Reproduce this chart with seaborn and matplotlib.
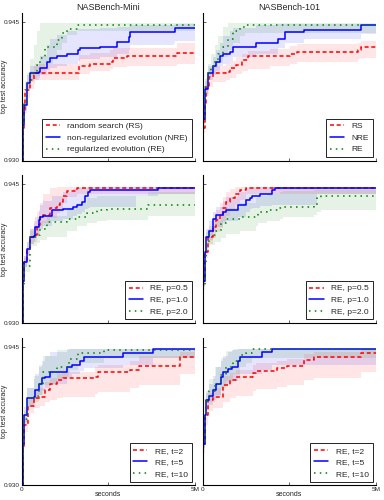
import matplotlib
matplotlib.use("Agg")
import matplotlib.pyplot as plt
import seaborn as sns

# x values are in millions of seconds
# --- row 1: RS / NRE / RE ---
mini_rs_x = [0, 0.02, 0.05, 0.10, 0.24, 0.34, 0.38, 1.66, 1.97, 2.55, 2.64, 3.03, 4.47, 5.0]
mini_rs_y = [0.930, 0.9335, 0.9355, 0.9377, 0.9387, 0.9393, 0.9395, 0.9402, 0.9405, 0.9407, 0.9411, 0.9413, 0.9417, 0.9417]
mini_rs_lo = [0.930, 0.9330, 0.9348, 0.9368, 0.9378, 0.9383, 0.9387, 0.9394, 0.9397, 0.9399, 0.9401, 0.9403, 0.9405, 0.9405]
mini_rs_hi = [0.930, 0.9340, 0.9362, 0.9386, 0.9397, 0.9402, 0.9405, 0.9414, 0.9417, 0.9420, 0.9422, 0.9422, 0.9427, 0.9427]

mini_nre_x = [0, 0.02, 0.05, 0.14, 0.24, 0.48, 0.53, 0.72, 0.82, 1.01, 1.30, 1.63, 1.68, 2.26, 2.74, 3.08, 3.13, 4.38, 4.42, 5.0]
mini_nre_y = [0.930, 0.9338, 0.9360, 0.9384, 0.9395, 0.9396, 0.9400, 0.9407, 0.9411, 0.9413, 0.9416, 0.9420, 0.9422, 0.9423, 0.9429, 0.9434, 0.9439, 0.9439, 0.9444, 0.9444]
mini_nre_lo = [0.930, 0.9333, 0.9352, 0.9375, 0.9387, 0.9390, 0.9393, 0.9398, 0.9400, 0.9402, 0.9405, 0.9408, 0.9410, 0.9412, 0.9416, 0.9420, 0.9425, 0.9427, 0.9430, 0.9430]
mini_nre_hi = [0.930, 0.9343, 0.9368, 0.9393, 0.9403, 0.9408, 0.9413, 0.9425, 0.9432, 0.9436, 0.9440, 0.9443, 0.9443, 0.9444, 0.9445, 0.9446, 0.9447, 0.9447, 0.9448, 0.9448]

mini_re_x = [0, 0.02, 0.05, 0.14, 0.24, 0.34, 0.43, 0.53, 0.67, 0.91, 1.01, 1.15, 1.30, 1.59, 5.0]
mini_re_y = [0.930, 0.9340, 0.9362, 0.9384, 0.9395, 0.9396, 0.9404, 0.9411, 0.9423, 0.9423, 0.9431, 0.9438, 0.9443, 0.9447, 0.9447]
mini_re_lo = [0.930, 0.9335, 0.9355, 0.9375, 0.9385, 0.9388, 0.9392, 0.9398, 0.9405, 0.9412, 0.9420, 0.9428, 0.9436, 0.9440, 0.9440]
mini_re_hi = [0.930, 0.9345, 0.9370, 0.9395, 0.9410, 0.9425, 0.9440, 0.9449, 0.9449, 0.9449, 0.9449, 0.9449, 0.9449, 0.9449, 0.9449]

b101_rs_x = [0, 0.02, 0.05, 0.10, 0.19, 0.29, 0.68, 0.78, 0.97, 1.12, 1.31, 1.94, 2.52, 2.72, 4.47, 4.56, 5.0]
b101_rs_y = [0.930, 0.9335, 0.9360, 0.9380, 0.9391, 0.9395, 0.9396, 0.9400, 0.9404, 0.9409, 0.9413, 0.9413, 0.9415, 0.9418, 0.9420, 0.9423, 0.9423]
b101_rs_lo = [0.930, 0.9330, 0.9352, 0.9370, 0.9380, 0.9385, 0.9387, 0.9390, 0.9394, 0.9397, 0.9399, 0.9402, 0.9405, 0.9407, 0.9410, 0.9411, 0.9411]
b101_rs_hi = [0.930, 0.9340, 0.9368, 0.9390, 0.9400, 0.9403, 0.9405, 0.9408, 0.9412, 0.9416, 0.9419, 0.9421, 0.9424, 0.9426, 0.9428, 0.9430, 0.9430]

b101_nre_x = [0, 0.02, 0.05, 0.15, 0.29, 0.39, 0.49, 0.58, 0.78, 0.87, 1.55, 2.18, 2.38, 2.91, 4.56, 5.0]
b101_nre_y = [0.930, 0.9345, 0.9378, 0.9395, 0.9402, 0.9407, 0.9413, 0.9416, 0.9418, 0.9423, 0.9427, 0.9432, 0.9439, 0.9442, 0.9447, 0.9447]
b101_nre_lo = [0.930, 0.9340, 0.9370, 0.9387, 0.9393, 0.9397, 0.9402, 0.9405, 0.9408, 0.9412, 0.9416, 0.9422, 0.9428, 0.9432, 0.9437, 0.9437]
b101_nre_hi = [0.930, 0.9350, 0.9386, 0.9403, 0.9412, 0.9420, 0.9428, 0.9435, 0.9440, 0.9444, 0.9447, 0.9448, 0.9448, 0.9448, 0.9448, 0.9448]

b101_re_x = [0, 0.02, 0.05, 0.15, 0.24, 0.34, 0.44, 0.58, 0.73, 0.87, 1.07, 1.21, 5.0]
b101_re_y = [0.930, 0.9345, 0.9380, 0.9395, 0.9402, 0.9409, 0.9416, 0.9423, 0.9432, 0.9440, 0.9445, 0.9447, 0.9447]
b101_re_lo = [0.930, 0.9340, 0.9372, 0.9387, 0.9394, 0.9400, 0.9406, 0.9412, 0.9420, 0.9428, 0.9435, 0.9438, 0.9440]
b101_re_hi = [0.930, 0.9350, 0.9388, 0.9405, 0.9415, 0.9425, 0.9435, 0.9445, 0.9449, 0.9449, 0.9449, 0.9449, 0.9449]

# --- row 2: RE with p = 0.5 / 1.0 / 2.0 ---
mini_p05_x = [0, 0.02, 0.05, 0.14, 0.24, 0.34, 0.43, 0.53, 0.62, 0.82, 1.01, 1.11, 1.20, 1.30, 1.59, 5.0]
mini_p05_y = [0.930, 0.9345, 0.9366, 0.9380, 0.9393, 0.9395, 0.9406, 0.9415, 0.9417, 0.9424, 0.9428, 0.9431, 0.9438, 0.9443, 0.9446, 0.9446]
mini_p05_lo = [0.930, 0.9340, 0.9360, 0.9372, 0.9385, 0.9388, 0.9396, 0.9405, 0.9408, 0.9414, 0.9419, 0.9423, 0.9430, 0.9436, 0.9440, 0.9442]
mini_p05_hi = [0.930, 0.9350, 0.9372, 0.9388, 0.9402, 0.9410, 0.9420, 0.9430, 0.9440, 0.9446, 0.9447, 0.9447, 0.9447, 0.9447, 0.9447, 0.9447]

mini_p10_x = [0, 0.02, 0.05, 0.14, 0.24, 0.34, 0.38, 0.48, 0.53, 0.62, 0.87, 1.20, 1.49, 1.59, 1.73, 1.83, 1.92, 1.97, 3.30, 3.94, 5.0]
mini_p10_y = [0.930, 0.9345, 0.9366, 0.9380, 0.9393, 0.9394, 0.9404, 0.9411, 0.9415, 0.9416, 0.9422, 0.9423, 0.9426, 0.9428, 0.9431, 0.9437, 0.9442, 0.9444, 0.9444, 0.9446, 0.9446]
mini_p10_lo = [0.930, 0.9340, 0.9360, 0.9372, 0.9385, 0.9388, 0.9395, 0.9399, 0.9402, 0.9405, 0.9410, 0.9413, 0.9416, 0.9418, 0.9420, 0.9423, 0.9425, 0.9426, 0.9438, 0.9440, 0.9440]
mini_p10_hi = [0.930, 0.9350, 0.9372, 0.9388, 0.9402, 0.9408, 0.9415, 0.9422, 0.9428, 0.9432, 0.9438, 0.9442, 0.9445, 0.9446, 0.9446, 0.9446, 0.9447, 0.9447, 0.9447, 0.9447, 0.9447]

mini_p20_x = [0, 0.02, 0.05, 0.24, 0.43, 0.53, 0.72, 1.30, 1.59, 1.88, 2.16, 2.45, 3.63, 5.0]
mini_p20_y = [0.930, 0.9340, 0.9362, 0.9393, 0.9395, 0.9402, 0.9409, 0.9413, 0.9415, 0.9419, 0.9422, 0.9423, 0.9428, 0.9428]
mini_p20_lo = [0.930, 0.9335, 0.9355, 0.9383, 0.9387, 0.9390, 0.9393, 0.9400, 0.9405, 0.9408, 0.9410, 0.9412, 0.9416, 0.9416]
mini_p20_hi = [0.930, 0.9345, 0.9370, 0.9400, 0.9404, 0.9410, 0.9416, 0.9425, 0.9430, 0.9435, 0.9437, 0.9438, 0.9442, 0.9442]

b101_p05_x = [0, 0.02, 0.05, 0.15, 0.29, 0.39, 0.49, 0.58, 0.68, 0.78, 0.92, 1.07, 1.26, 5.0]
b101_p05_y = [0.930, 0.9345, 0.9377, 0.9393, 0.9404, 0.9411, 0.9417, 0.9424, 0.9431, 0.9435, 0.9440, 0.9444, 0.9446, 0.9446]
b101_p05_lo = [0.930, 0.9340, 0.9370, 0.9385, 0.9392, 0.9398, 0.9403, 0.9410, 0.9416, 0.9422, 0.9428, 0.9433, 0.9440, 0.9442]
b101_p05_hi = [0.930, 0.9350, 0.9385, 0.9402, 0.9413, 0.9422, 0.9430, 0.9436, 0.9442, 0.9445, 0.9447, 0.9447, 0.9447, 0.9447]

b101_p10_x = [0, 0.02, 0.05, 0.10, 0.19, 0.29, 0.39, 0.58, 0.68, 1.02, 1.26, 1.36, 1.41, 1.65, 1.99, 2.09, 3.30, 5.0]
b101_p10_y = [0.930, 0.9345, 0.9377, 0.9393, 0.9399, 0.9413, 0.9417, 0.9420, 0.9422, 0.9428, 0.9433, 0.9435, 0.9438, 0.9440, 0.9444, 0.9446, 0.9446, 0.9446]
b101_p10_lo = [0.930, 0.9340, 0.9370, 0.9385, 0.9390, 0.9400, 0.9404, 0.9408, 0.9410, 0.9415, 0.9420, 0.9423, 0.9425, 0.9427, 0.9428, 0.9428, 0.9440, 0.9440]
b101_p10_hi = [0.930, 0.9350, 0.9385, 0.9402, 0.9410, 0.9420, 0.9426, 0.9432, 0.9436, 0.9442, 0.9446, 0.9446, 0.9447, 0.9447, 0.9447, 0.9447, 0.9447, 0.9447]

b101_p20_x = [0, 0.02, 0.05, 0.10, 0.19, 0.34, 0.53, 0.68, 1.07, 1.55, 1.60, 1.84, 2.23, 2.33, 3.20, 3.30, 3.40, 5.0]
b101_p20_y = [0.930, 0.9340, 0.9365, 0.9388, 0.9395, 0.9399, 0.9408, 0.9413, 0.9415, 0.9417, 0.9420, 0.9422, 0.9424, 0.9426, 0.9428, 0.9435, 0.9438, 0.9438]
b101_p20_lo = [0.930, 0.9335, 0.9358, 0.9378, 0.9384, 0.9388, 0.9392, 0.9396, 0.9400, 0.9405, 0.9408, 0.9410, 0.9413, 0.9415, 0.9417, 0.9420, 0.9422, 0.9422]
b101_p20_hi = [0.930, 0.9345, 0.9372, 0.9398, 0.9405, 0.9410, 0.9420, 0.9425, 0.9430, 0.9435, 0.9438, 0.9440, 0.9442, 0.9443, 0.9444, 0.9444, 0.9444, 0.9444]

# --- row 3: RE with t = 2 / 5 / 10 ---
mini_t2_x = [0, 0.02, 0.05, 0.19, 0.34, 0.53, 0.67, 0.82, 1.01, 1.20, 2.12, 2.21, 3.13, 3.37, 4.57, 5.0]
mini_t2_y = [0.930, 0.9340, 0.9365, 0.9386, 0.9394, 0.9396, 0.9403, 0.9410, 0.9414, 0.9416, 0.9417, 0.9423, 0.9425, 0.9429, 0.9439, 0.9439]
mini_t2_lo = [0.930, 0.9335, 0.9358, 0.9378, 0.9384, 0.9386, 0.9390, 0.9392, 0.9394, 0.9396, 0.9399, 0.9401, 0.9405, 0.9408, 0.9420, 0.9420]
mini_t2_hi = [0.930, 0.9345, 0.9372, 0.9394, 0.9402, 0.9405, 0.9412, 0.9416, 0.9420, 0.9423, 0.9428, 0.9430, 0.9435, 0.9440, 0.9444, 0.9444]

mini_t5_x = [0, 0.02, 0.05, 0.14, 0.34, 0.38, 0.48, 0.58, 0.67, 0.82, 1.30, 1.44, 1.68, 1.78, 2.93, 3.80, 5.0]
mini_t5_y = [0.930, 0.9345, 0.9376, 0.9394, 0.9396, 0.9403, 0.9410, 0.9416, 0.9417, 0.9423, 0.9428, 0.9430, 0.9434, 0.9439, 0.9443, 0.9447, 0.9447]
mini_t5_lo = [0.930, 0.9340, 0.9368, 0.9385, 0.9388, 0.9393, 0.9398, 0.9402, 0.9405, 0.9410, 0.9417, 0.9420, 0.9424, 0.9427, 0.9430, 0.9438, 0.9438]
mini_t5_hi = [0.930, 0.9350, 0.9385, 0.9405, 0.9415, 0.9420, 0.9428, 0.9435, 0.9440, 0.9444, 0.9447, 0.9447, 0.9447, 0.9447, 0.9447, 0.9448, 0.9448]

mini_t10_x = [0, 0.02, 0.05, 0.14, 0.34, 0.48, 0.62, 1.01, 1.35, 1.39, 1.63, 2.36, 5.0]
mini_t10_y = [0.930, 0.9345, 0.9372, 0.9394, 0.9397, 0.9408, 0.9423, 0.9428, 0.9434, 0.9437, 0.9443, 0.9446, 0.9446]
mini_t10_lo = [0.930, 0.9340, 0.9365, 0.9385, 0.9390, 0.9398, 0.9408, 0.9415, 0.9422, 0.9425, 0.9432, 0.9438, 0.9438]
mini_t10_hi = [0.930, 0.9350, 0.9380, 0.9405, 0.9418, 0.9430, 0.9440, 0.9446, 0.9448, 0.9448, 0.9448, 0.9448, 0.9448]

b101_t2_x = [0, 0.02, 0.05, 0.15, 0.29, 0.58, 0.78, 0.97, 1.46, 1.55, 2.14, 2.43, 2.91, 3.20, 4.56, 5.0]
b101_t2_y = [0.930, 0.9345, 0.9376, 0.9392, 0.9396, 0.9408, 0.9414, 0.9417, 0.9421, 0.9424, 0.9427, 0.9429, 0.9436, 0.9439, 0.9443, 0.9443]
b101_t2_lo = [0.930, 0.9335, 0.9365, 0.9380, 0.9384, 0.9390, 0.9394, 0.9397, 0.9402, 0.9404, 0.9406, 0.9408, 0.9414, 0.9416, 0.9423, 0.9423]
b101_t2_hi = [0.930, 0.9350, 0.9385, 0.9400, 0.9405, 0.9418, 0.9422, 0.9425, 0.9430, 0.9432, 0.9434, 0.9437, 0.9442, 0.9444, 0.9447, 0.9447]

b101_t5_x = [0, 0.02, 0.05, 0.10, 0.19, 0.29, 0.39, 0.53, 0.58, 0.73, 0.83, 1.02, 1.07, 1.70, 1.99, 5.0]
b101_t5_y = [0.930, 0.9345, 0.9376, 0.9392, 0.9397, 0.9403, 0.9410, 0.9417, 0.9423, 0.9426, 0.9428, 0.9434, 0.9439, 0.9444, 0.9447, 0.9447]
b101_t5_lo = [0.930, 0.9340, 0.9368, 0.9383, 0.9387, 0.9392, 0.9397, 0.9403, 0.9407, 0.9411, 0.9413, 0.9417, 0.9420, 0.9425, 0.9430, 0.9430]
b101_t5_hi = [0.930, 0.9350, 0.9385, 0.9402, 0.9410, 0.9418, 0.9428, 0.9435, 0.9440, 0.9444, 0.9446, 0.9447, 0.9447, 0.9447, 0.9448, 0.9448]

b101_t10_x = [0, 0.02, 0.05, 0.10, 0.19, 0.34, 0.53, 0.68, 0.87, 1.07, 1.26, 1.41, 5.0]
b101_t10_y = [0.930, 0.9345, 0.9376, 0.9391, 0.9402, 0.9410, 0.9419, 0.9428, 0.9434, 0.9441, 0.9443, 0.9447, 0.9447]
b101_t10_lo = [0.930, 0.9340, 0.9368, 0.9382, 0.9390, 0.9398, 0.9405, 0.9413, 0.9420, 0.9428, 0.9432, 0.9438, 0.9438]
b101_t10_hi = [0.930, 0.9350, 0.9385, 0.9400, 0.9415, 0.9428, 0.9438, 0.9445, 0.9448, 0.9448, 0.9448, 0.9448, 0.9448]

col_titles = ["NASBench-Mini", "NASBench-101"]
row1_labels_mini = ["random search (RS)", "non-regularized evolution (NRE)", "regularized evolution (RE)"]
row1_labels_101 = ["RS", "NRE", "RE"]
row2_labels = ["RE, p=0.5", "RE, p=1.0", "RE, p=2.0"]
row3_labels = ["RE, t=2", "RE, t=5", "RE, t=10"]
x_ticks = [0, 2.5, 5.0]
x_ticklabels = ["0", "", "5M"]
y_ticks = [0.930, 0.945]

colors = ["#ff0000", "#0000ff", "#008000"]
styles = [(0, (2.6, 1.8)), "-", (0, (1, 2.8))]

sns.set_style("white")
plt.rcParams['font.family'] = ['Liberation Sans', 'DejaVu Sans']

fig, axes = plt.subplots(3, 2, figsize=(3.84, 5.0), dpi=100, sharex=True, sharey=True)
fig.subplots_adjust(left=0.057, right=0.979, top=0.974, bottom=0.03, hspace=0.1, wspace=0.045)

panels = [
    (axes[0, 0], [(mini_rs_x, mini_rs_y, mini_rs_lo, mini_rs_hi),
                  (mini_nre_x, mini_nre_y, mini_nre_lo, mini_nre_hi),
                  (mini_re_x, mini_re_y, mini_re_lo, mini_re_hi)], row1_labels_mini),
    (axes[0, 1], [(b101_rs_x, b101_rs_y, b101_rs_lo, b101_rs_hi),
                  (b101_nre_x, b101_nre_y, b101_nre_lo, b101_nre_hi),
                  (b101_re_x, b101_re_y, b101_re_lo, b101_re_hi)], row1_labels_101),
    (axes[1, 0], [(mini_p05_x, mini_p05_y, mini_p05_lo, mini_p05_hi),
                  (mini_p10_x, mini_p10_y, mini_p10_lo, mini_p10_hi),
                  (mini_p20_x, mini_p20_y, mini_p20_lo, mini_p20_hi)], row2_labels),
    (axes[1, 1], [(b101_p05_x, b101_p05_y, b101_p05_lo, b101_p05_hi),
                  (b101_p10_x, b101_p10_y, b101_p10_lo, b101_p10_hi),
                  (b101_p20_x, b101_p20_y, b101_p20_lo, b101_p20_hi)], row2_labels),
    (axes[2, 0], [(mini_t2_x, mini_t2_y, mini_t2_lo, mini_t2_hi),
                  (mini_t5_x, mini_t5_y, mini_t5_lo, mini_t5_hi),
                  (mini_t10_x, mini_t10_y, mini_t10_lo, mini_t10_hi)], row3_labels),
    (axes[2, 1], [(b101_t2_x, b101_t2_y, b101_t2_lo, b101_t2_hi),
                  (b101_t5_x, b101_t5_y, b101_t5_lo, b101_t5_hi),
                  (b101_t10_x, b101_t10_y, b101_t10_lo, b101_t10_hi)], row3_labels),
]

for ax, series, labels in panels:
    # shaded bands first, lines on top
    for (x, y, lo, hi), c in zip(series, colors):
        ax.fill_between(x, lo, hi, step="post", color=c, alpha=0.1, linewidth=0)
    for (x, y, lo, hi), c, ls, lab in zip(series, colors, styles, labels):
        sns.lineplot(x=x, y=y, ax=ax, color=c, linestyle=ls, linewidth=1.1,
                     drawstyle="steps-post", label=lab, legend=False)
    leg = ax.legend(loc="lower right", fontsize=6, frameon=True, fancybox=False,
                    edgecolor="black", framealpha=1, handlelength=1.7,
                    handletextpad=0.9, borderpad=0.45, labelspacing=0.45,
                    borderaxespad=0.4)
    leg.get_frame().set_linewidth(0.6)
    for s in ["top", "right"]:
        ax.spines[s].set_visible(False)
    for s in ["left", "bottom"]:
        ax.spines[s].set_color("black")
        ax.spines[s].set_linewidth(0.8)
    ax.tick_params(direction="in", length=2, width=0.5, labelsize=4.6, pad=1.5,
                   left=True, bottom=True)

ax0 = axes[0, 0]
ax0.set_xlim(0, 5.0)
ax0.set_ylim(0.930, 0.946)
ax0.set_xticks(x_ticks)
ax0.set_xticklabels(x_ticklabels)
ax0.set_yticks(y_ticks)
ax0.set_yticklabels(["%.3f" % v for v in y_ticks])

for j, t in enumerate(col_titles):
    axes[0, j].set_title(t, fontsize=6.5, pad=2)
for i in range(3):
    axes[i, 0].set_ylabel("top test accuracy", fontsize=5)
    axes[i, 0].yaxis.set_label_coords(-0.08, 0.5)
    axes[i, 1].set_ylabel("")
for j in range(2):
    axes[2, j].set_xlabel("seconds", fontsize=5, labelpad=-1)
    for i in range(2):
        axes[i, j].set_xlabel("")

fig.savefig("out.png", dpi=100)
